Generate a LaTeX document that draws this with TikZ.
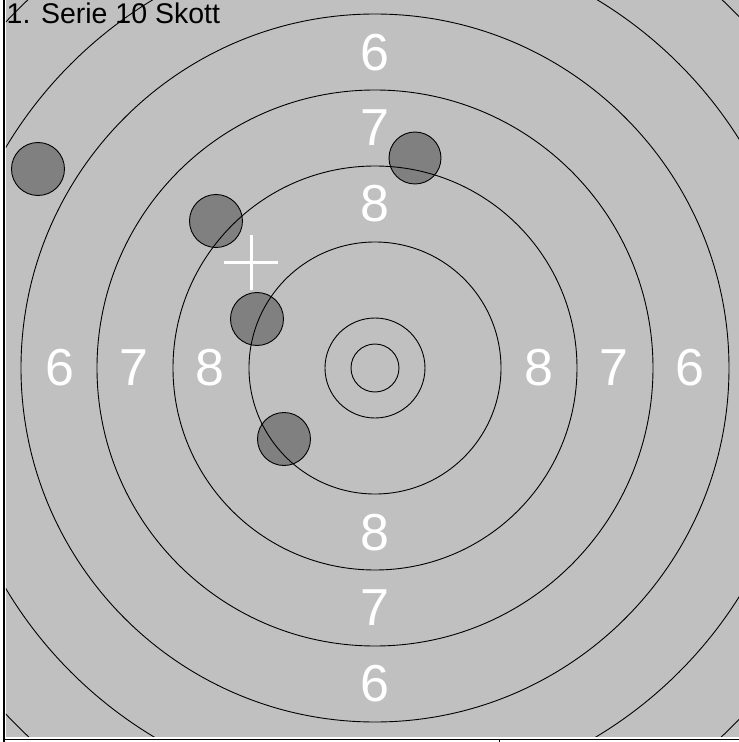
\documentclass[tikz,border=0pt]{standalone}
\usepackage{fontspec}
\setmainfont{Liberation Sans}
\usepackage{tikz}
\definecolor{targetgray}{HTML}{C0C0C0}
\definecolor{shotgray}{HTML}{808080}
\tikzset{
  ring/.style={line width=0.9pt},
  ringnum/.style={text=white, inner sep=0pt, font=\fontsize{52}{52}\selectfont},
  shot/.style={fill=shotgray, draw=black, line width=0.9pt}
}
\begin{document}
\begin{tikzpicture}[x=1pt,y=1pt]
            \useasboundingbox[fill=white] (-375,-374) rectangle (364,368);
            \fill[targetgray] (-369,-368.7) rectangle (364,368);
            % shots
            \draw[shot] (-337,199) circle (26.5);
            \draw[shot] (-159,147) circle (26.5);
            \draw[shot] (40,210) circle (26);
            \draw[shot] (-118,49) circle (26.5);
            \draw[shot] (-91,-71) circle (26.5);
            \begin{scope}
              \clip (-369,-368.7) rectangle (364,368);
              \foreach \r in {24,50,126,202,278,354,430,506}
                \draw[ring] (0,0) circle (\r);
            \end{scope}
            % ring numbers
            \node[ringnum] (l6) at (-315,0) {6};
            \node[ringnum] (l7) at (-241,0) {7};
            \node[ringnum] (l8) at (-165,0) {8};
            \node[ringnum] (r8) at (164,0) {8};
            \node[ringnum] (r7) at (239,0) {7};
            \node[ringnum] (r6) at (315,0) {6};
            \node[ringnum] (t6) at (0,315) {6};
            \node[ringnum] (t7) at (0,240) {7};
            \node[ringnum] (t8) at (0,164) {8};
            \node[ringnum] (b8) at (0,-165) {8};
            \node[ringnum] (b7) at (0,-240) {7};
            \node[ringnum] (b6) at (0,-316) {6};
            % aim point
            \coordinate (A) at (-123.5,105.5);
            \draw[white, line width=2.3pt] ([xshift=-27]A) -- ([xshift=27]A);
            \draw[white, line width=2.3pt] ([yshift=-27]A) -- ([yshift=27]A);
            \node[anchor=base west, inner sep=0pt, font=\fontsize{28.5}{28.5}\selectfont] (title) at (-368.5,344.7) {1. Serie 10 Skott};
            % frame
            \draw[line width=1.5pt] (-371,368) -- (-371,-374);
            \draw[line width=1.5pt] (-371,-371.3) -- (364,-371.3);
            \draw[line width=1pt] (124.3,-371.3) -- (124.3,-374);
        \end{tikzpicture}
\end{document}
